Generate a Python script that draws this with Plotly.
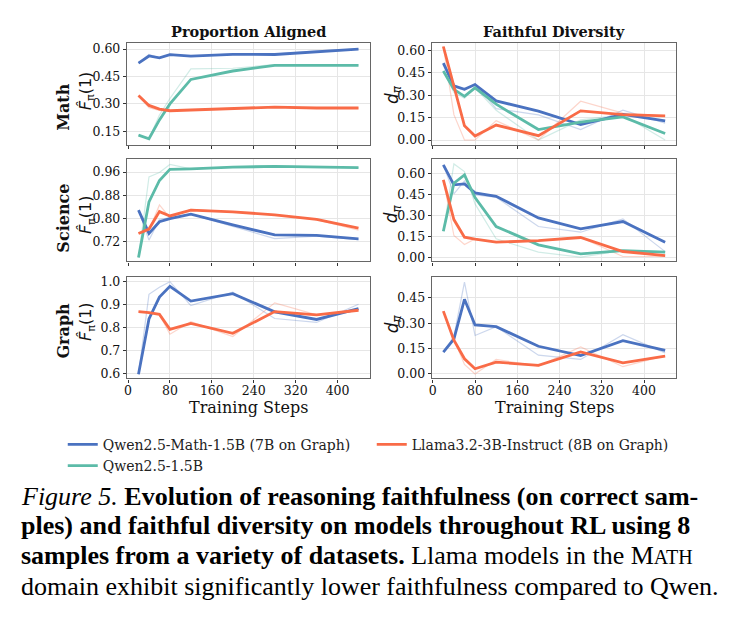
import plotly.graph_objects as go
from plotly.subplots import make_subplots

steps = [20, 40, 60, 80, 120, 200, 280, 360, 440]

# ---- Math: Proportion Aligned ----
math_pa_blue_raw = [0.523, 0.570, 0.550, 0.572, 0.560, 0.573, 0.572, 0.590, 0.600]
math_pa_blue = [0.523, 0.562, 0.552, 0.569, 0.561, 0.571, 0.570, 0.584, 0.600]
math_pa_green_raw = [0.130, 0.110, 0.240, 0.330, 0.492, 0.495, 0.515, 0.515, 0.512]
math_pa_green = [0.130, 0.110, 0.213, 0.300, 0.434, 0.480, 0.511, 0.511, 0.511]
math_pa_orange_raw = [0.346, 0.280, 0.265, 0.262, 0.268, 0.278, 0.285, 0.277, 0.278]
math_pa_orange = [0.346, 0.292, 0.272, 0.263, 0.267, 0.276, 0.283, 0.278, 0.278]

# ---- Math: Faithful Diversity ----
math_fd_blue_raw = [0.516, 0.355, 0.335, 0.378, 0.210, 0.168, 0.070, 0.200, 0.113]
math_fd_blue = [0.516, 0.363, 0.340, 0.372, 0.262, 0.193, 0.104, 0.172, 0.128]
math_fd_green_raw = [0.463, 0.320, 0.280, 0.350, 0.200, 0.000, 0.135, 0.168, 0.000]
math_fd_green = [0.463, 0.340, 0.293, 0.350, 0.240, 0.070, 0.120, 0.155, 0.044]
math_fd_orange_raw = [0.627, 0.170, 0.000, 0.000, 0.130, 0.000, 0.260, 0.180, 0.160]
math_fd_orange = [0.627, 0.370, 0.095, 0.027, 0.100, 0.029, 0.195, 0.170, 0.162]

# ---- Science: Proportion Aligned ----
sci_pa_blue_raw = [0.829, 0.726, 0.797, 0.803, 0.815, 0.773, 0.731, 0.740, 0.728]
sci_pa_blue = [0.829, 0.749, 0.789, 0.800, 0.815, 0.778, 0.744, 0.742, 0.730]
sci_pa_green_raw = [0.666, 0.943, 0.958, 0.986, 0.971, 0.978, 0.981, 0.977, 0.975]
sci_pa_green = [0.666, 0.857, 0.931, 0.969, 0.971, 0.977, 0.979, 0.977, 0.975]
sci_pa_orange_raw = [0.749, 0.760, 0.847, 0.803, 0.832, 0.823, 0.813, 0.796, 0.760]
sci_pa_orange = [0.749, 0.764, 0.824, 0.809, 0.829, 0.823, 0.813, 0.797, 0.767]

# ---- Science: Faithful Diversity ----
sci_fd_blue_raw = [0.665, 0.456, 0.550, 0.449, 0.432, 0.221, 0.180, 0.276, 0.040]
sci_fd_blue = [0.665, 0.521, 0.528, 0.463, 0.439, 0.283, 0.204, 0.257, 0.108]
sci_fd_green_raw = [0.187, 0.672, 0.617, 0.384, 0.132, 0.036, 0.000, 0.048, 0.040]
sci_fd_green = [0.187, 0.533, 0.593, 0.430, 0.221, 0.089, 0.024, 0.048, 0.036]
sci_fd_orange_raw = [0.557, 0.156, 0.091, 0.132, 0.108, 0.120, 0.142, 0.005, 0.005]
sci_fd_orange = [0.557, 0.271, 0.144, 0.130, 0.108, 0.120, 0.142, 0.041, 0.012]

# ---- Graph: Proportion Aligned ----
gr_pa_blue_raw = [0.599, 0.946, 0.977, 1.001, 0.897, 0.956, 0.841, 0.824, 0.903]
gr_pa_blue = [0.599, 0.839, 0.934, 0.981, 0.917, 0.949, 0.870, 0.837, 0.884]
gr_pa_orange_raw = [0.871, 0.867, 0.859, 0.773, 0.827, 0.763, 0.909, 0.857, 0.875]
gr_pa_orange = [0.871, 0.867, 0.859, 0.794, 0.820, 0.777, 0.871, 0.857, 0.877]

# ---- Graph: Faithful Diversity ----
gr_fd_blue_raw = [0.129, 0.222, 0.543, 0.228, 0.280, 0.111, 0.086, 0.232, 0.125]
gr_fd_blue = [0.129, 0.206, 0.442, 0.290, 0.280, 0.164, 0.109, 0.197, 0.140]
gr_fd_orange_raw = [0.372, 0.205, 0.056, 0.000, 0.086, 0.047, 0.160, 0.043, 0.109]
gr_fd_orange = [0.372, 0.200, 0.090, 0.031, 0.070, 0.051, 0.131, 0.066, 0.105]

series_names = {
    "blue": "Qwen2.5-Math-1.5B (7B on Graph)",
    "orange": "Llama3.2-3B-Instruct (8B on Graph)",
    "green": "Qwen2.5-1.5B",
}
colors = {"blue": "#4A72C0", "orange": "#F96B47", "green": "#5CBBA8"}
rank = {"blue": 1, "orange": 2, "green": 3}

col_titles = ["Proportion Aligned", "Faithful Diversity"]
row_titles = ["Math", "Science", "Graph"]
x_ticks = [0, 80, 160, 240, 320, 400]

panels = {
    (1, 1): {"blue": (math_pa_blue_raw, math_pa_blue), "green": (math_pa_green_raw, math_pa_green),
             "orange": (math_pa_orange_raw, math_pa_orange)},
    (1, 2): {"blue": (math_fd_blue_raw, math_fd_blue), "green": (math_fd_green_raw, math_fd_green),
             "orange": (math_fd_orange_raw, math_fd_orange)},
    (2, 1): {"blue": (sci_pa_blue_raw, sci_pa_blue), "green": (sci_pa_green_raw, sci_pa_green),
             "orange": (sci_pa_orange_raw, sci_pa_orange)},
    (2, 2): {"blue": (sci_fd_blue_raw, sci_fd_blue), "green": (sci_fd_green_raw, sci_fd_green),
             "orange": (sci_fd_orange_raw, sci_fd_orange)},
    (3, 1): {"blue": (gr_pa_blue_raw, gr_pa_blue), "orange": (gr_pa_orange_raw, gr_pa_orange)},
    (3, 2): {"blue": (gr_fd_blue_raw, gr_fd_blue), "orange": (gr_fd_orange_raw, gr_fd_orange)},
}

y_ticks = {
    (1, 1): ([0.15, 0.30, 0.45, 0.60], ".2f", [0.078, 0.635]),
    (1, 2): ([0.0, 0.15, 0.30, 0.45, 0.60], ".2f", [-0.031, 0.653]),
    (2, 1): ([0.72, 0.80, 0.88, 0.96], ".2f", [0.6526, 1.003]),
    (2, 2): ([0.0, 0.15, 0.30, 0.45, 0.60], ".2f", [-0.031, 0.704]),
    (3, 1): ([0.6, 0.7, 0.8, 0.9, 1.0], ".1f", [0.581, 1.02]),
    (3, 2): ([0.0, 0.15, 0.30, 0.45], ".2f", [-0.026, 0.572]),
}

W, H = 739, 624
fig = make_subplots(rows=3, cols=2)

shown = set()
for (r, c), d in panels.items():
    for key in ["blue", "green", "orange"]:
        if key not in d:
            continue
        raw, smooth = d[key]
        fig.add_trace(go.Scatter(x=steps, y=raw, mode="lines", line=dict(color=colors[key], width=1.2),
                                 opacity=0.28, showlegend=False, hoverinfo="skip"), row=r, col=c)
    for key in ["blue", "green", "orange"]:
        if key not in d:
            continue
        raw, smooth = d[key]
        show = key not in shown
        shown.add(key)
        fig.add_trace(go.Scatter(x=steps, y=smooth, mode="lines", name=series_names[key],
                                 line=dict(color=colors[key], width=2.8), showlegend=show,
                                 legendrank=rank[key]), row=r, col=c)

# domains in pixels
x_dom = {1: (125, 368), 2: (431, 676)}
y_dom = {1: (40, 143), 2: (158, 261), 3: (277, 379)}

serif = "DejaVu Serif"
for r in range(1, 4):
    for c in range(1, 3):
        idx = (r - 1) * 2 + c
        xa = "xaxis" if idx == 1 else f"xaxis{idx}"
        ya = "yaxis" if idx == 1 else f"yaxis{idx}"
        tv, fmt, rng = y_ticks[(r, c)]
        fig.layout[xa].update(
            domain=[x_dom[c][0] / W, x_dom[c][1] / W], range=[-1, 461],
            tickvals=x_ticks, showticklabels=(r == 3),
            showline=True, mirror=True, linecolor="#666666", linewidth=1.3,
            showgrid=True, gridcolor="#e6e6e6", gridwidth=1, zeroline=False,
            ticks="outside", ticklen=3.5, tickwidth=1, tickcolor="#333333",
            ticklabelstandoff=-3,
            tickfont=dict(family=serif, size=12.5, color="#111111"),
        )
        fig.layout[ya].update(
            domain=[1 - y_dom[r][1] / H, 1 - y_dom[r][0] / H], range=rng,
            tickvals=tv, tickformat=fmt,
            showline=True, mirror=True, linecolor="#666666", linewidth=1.3,
            showgrid=True, gridcolor="#e6e6e6", gridwidth=1, zeroline=False,
            ticks="outside", ticklen=3.5, tickwidth=1, tickcolor="#333333",
            tickfont=dict(family=serif, size=12.5, color="#111111"),
        )

ann = []
# column titles
for c, t in zip([1, 2], col_titles):
    ann.append(dict(text=f"<b>{t}</b>", x=(x_dom[c][0] + x_dom[c][1]) / 2 / W, y=1 - 29 / H,
                    xref="paper", yref="paper", showarrow=False, xanchor="center", yanchor="middle",
                    font=dict(family=serif, size=14.5, color="#111111")))
    # x axis titles
    ann.append(dict(text="Training Steps", x=(x_dom[c][0] + x_dom[c][1]) / 2 / W, y=1 - 408 / H,
                    xref="paper", yref="paper", showarrow=False, xanchor="center", yanchor="middle",
                    font=dict(family=serif, size=16, color="#111111")))
# row titles
row_y = [105, 217, 331]
f_y = [88.5, 213.5, 321.5]
d_y = [92.5, 213, 324]
for t, ry, fy, dy in zip(row_titles, row_y, f_y, d_y):
    ann.append(dict(text=f"<b>{t}</b>", x=61 / W, y=1 - ry / H, xref="paper", yref="paper",
                    showarrow=False, textangle=-90, xanchor="center", yanchor="middle",
                    font=dict(family=serif, size=16, color="#111111")))
    ann.append(dict(text="<i>F\u0302</i><sub>\u03c0</sub>(1)", x=84 / W, y=1 - fy / H, xref="paper", yref="paper",
                    showarrow=False, textangle=-90, xanchor="center", yanchor="middle",
                    font=dict(family="DejaVu Sans", size=16, color="#111111")))
    ann.append(dict(text="<i>d<sub>\u03c0</sub></i>", x=392 / W, y=1 - dy / H, xref="paper", yref="paper",
                    showarrow=False, textangle=-90, xanchor="center", yanchor="middle",
                    font=dict(family="DejaVu Sans", size=17, color="#111111")))

# caption
cap_font = "Liberation Serif"
cap_size = 26
cap_lines = [
    "<i>Figure 5.</i> <b>Evolution of reasoning faithfulness (on correct sam-</b>",
    "<b>ples) and faithful diversity on models throughout RL using 8</b>",
    "<b>samples from a variety of datasets.</b> Llama models in the M<span style=\"font-size:20px\">ATH</span>",
    "domain exhibit significantly lower faithfulness compared to Qwen.",
]
cap_y = [498, 528, 558, 589]
for line, yy in zip(cap_lines, cap_y):
    ann.append(dict(text=line, x=16 / W, y=1 - yy / H, xref="paper", yref="paper", showarrow=False,
                    xanchor="left", yanchor="middle", font=dict(family=cap_font, size=cap_size, color="#000000")))

fig.update_layout(
    width=W, height=H, margin=dict(l=0, r=0, t=0, b=0),
    paper_bgcolor="white", plot_bgcolor="white",
    annotations=ann,
    showlegend=True,
    legend=dict(orientation="h", x=60 / W, y=1 - 430 / H, xanchor="left", yanchor="top",
                entrywidth=264, entrywidthmode="pixels", traceorder="normal",
                font=dict(family=serif, size=14, color="#222222"), bgcolor="rgba(0,0,0,0)",
                tracegroupgap=0),
)

fig.write_html("out.html")
